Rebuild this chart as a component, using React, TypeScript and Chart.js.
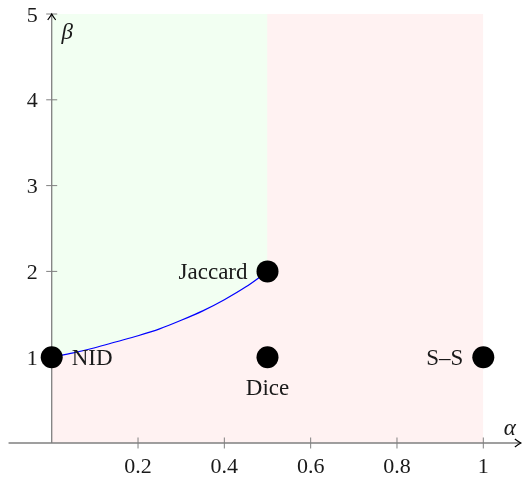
import React, { useEffect, useRef } from "react";
import { Chart, registerables } from "chart.js";

Chart.register(...registerables);

// ---- data ----
const curveAlpha = [0, 0.05, 0.1, 0.15, 0.2, 0.25, 0.3, 0.35, 0.4, 0.45, 0.5];
const curveBeta = [1, 1.05, 1.11, 1.18, 1.25, 1.33, 1.43, 1.54, 1.67, 1.82, 2];

const pointNames = ["NID", "Jaccard", "Dice", "S\u2013S"];
const pointAlpha = [0, 0.5, 0.5, 1];
const pointBeta = [1, 2, 1, 1];
const labelPlacement = ["right", "left", "below", "left"];

const xTicks = [0.2, 0.4, 0.6, 0.8, 1];
const xTickLabels = ["0.2", "0.4", "0.6", "0.8", "1"];
const yTicks = [1, 2, 3, 4, 5];
const yTickLabels = ["1", "2", "3", "4", "5"];

const greenAlpha = [0, 0.5];
const redAlpha = [0, 1];
const betaTop = 5;

const xAxisLabel = "\u03b1";
const yAxisLabel = "\u03b2";

// ---- view ----
const X_MIN = -0.1198;
const X_MAX = 1.0943;
const Y_MIN = -0.4429;
const Y_MAX = 5.1632;
const X_AXIS_START = -0.1;
const X_AXIS_END = 1.087;
const Y_AXIS_END = 5;

const FONT = '"Liberation Serif", "DejaVu Serif", serif';
const AXIS_COLOR = "#808080";
const TEXT_COLOR = "#1a1a1a";

export default function App() {
  const ref = useRef<HTMLCanvasElement | null>(null);

  useEffect(() => {
    const canvas = ref.current;
    if (!canvas) return;

    const axesPlugin = {
      id: "customAxes",
      beforeDatasetsDraw(chart: any) {
        const ctx = chart.ctx;
        const xs = chart.scales.x;
        const ys = chart.scales.y;
        const ox = xs.getPixelForValue(0);
        const oy = ys.getPixelForValue(0);
        ctx.save();
        ctx.strokeStyle = AXIS_COLOR;
        ctx.lineWidth = 1.3;
        ctx.beginPath();
        const xEnd = xs.getPixelForValue(X_AXIS_END);
        const yEnd = ys.getPixelForValue(Y_AXIS_END);
        ctx.moveTo(xs.getPixelForValue(X_AXIS_START), oy);
        ctx.lineTo(xEnd, oy);
        ctx.moveTo(ox, oy);
        ctx.lineTo(ox, yEnd);
        ctx.stroke();
        // ticks
        ctx.lineWidth = 1;
        ctx.beginPath();
        xTicks.forEach((v) => {
          const px = xs.getPixelForValue(v);
          ctx.moveTo(px, oy - 5.5);
          ctx.lineTo(px, oy + 5.5);
        });
        yTicks.forEach((v) => {
          const py = ys.getPixelForValue(v);
          ctx.moveTo(ox - 5.5, py);
          ctx.lineTo(ox + 5.5, py);
        });
        ctx.stroke();
        // arrow heads
        ctx.strokeStyle = "#000";
        ctx.lineWidth = 1.2;
        ctx.beginPath();
        ctx.moveTo(xEnd - 6, oy - 4);
        ctx.quadraticCurveTo(xEnd - 2, oy - 1, xEnd, oy);
        ctx.quadraticCurveTo(xEnd - 2, oy + 1, xEnd - 6, oy + 4);
        ctx.moveTo(ox - 4, yEnd + 6);
        ctx.quadraticCurveTo(ox - 1, yEnd + 2, ox, yEnd);
        ctx.quadraticCurveTo(ox + 1, yEnd + 2, ox + 4, yEnd + 6);
        ctx.stroke();
        // tick labels
        ctx.fillStyle = TEXT_COLOR;
        ctx.font = `22px ${FONT}`;
        ctx.textBaseline = "alphabetic";
        ctx.textAlign = "center";
        xTicks.forEach((v, i) => {
          ctx.fillText(xTickLabels[i], xs.getPixelForValue(v), oy + 30);
        });
        ctx.textAlign = "right";
        yTicks.forEach((v, i) => {
          ctx.fillText(yTickLabels[i], ox - 14, ys.getPixelForValue(v) + 7.5);
        });
        // axis labels
        ctx.font = `italic 23px ${FONT}`;
        ctx.textAlign = "center";
        ctx.fillText(xAxisLabel, xEnd - 11, oy - 8);
        ctx.fillText(yAxisLabel, ox + 15.5, yEnd + 25);
        ctx.restore();
      },
      afterDatasetsDraw(chart: any) {
        const ctx = chart.ctx;
        const xs = chart.scales.x;
        const ys = chart.scales.y;
        ctx.save();
        ctx.fillStyle = TEXT_COLOR;
        ctx.font = `23px ${FONT}`;
        ctx.textBaseline = "alphabetic";
        pointNames.forEach((name, i) => {
          const px = xs.getPixelForValue(pointAlpha[i]);
          const py = ys.getPixelForValue(pointBeta[i]);
          const pl = labelPlacement[i];
          if (pl === "right") {
            ctx.textAlign = "left";
            ctx.fillText(name, px + 20, py + 8);
          } else if (pl === "left") {
            ctx.textAlign = "right";
            ctx.fillText(name, px - 20, py + 8);
          } else {
            ctx.textAlign = "center";
            ctx.fillText(name, px, py + 37.5);
          }
        });
        ctx.restore();
      },
    };

    const chart = new Chart(canvas, {
      type: "line",
      data: {
        datasets: [
          {
            label: "points",
            data: pointAlpha.map((x, i) => ({ x, y: pointBeta[i] })),
            showLine: false,
            pointRadius: 11,
            pointHoverRadius: 11,
            pointBackgroundColor: "#000",
            pointBorderWidth: 0,
            borderColor: "#000",
          },
          {
            label: "curve",
            data: curveAlpha.map((x, i) => ({ x, y: curveBeta[i] })),
            borderColor: "#0000ff",
            borderWidth: 1.2,
            pointRadius: 0,
            cubicInterpolationMode: "monotone",
            fill: false,
          },
          {
            label: "green",
            data: greenAlpha.map((x) => ({ x, y: betaTop })),
            borderWidth: 0,
            borderColor: "rgba(0,0,0,0)",
            pointRadius: 0,
            backgroundColor: "rgb(242,255,242)",
            fill: 1,
          },
          {
            label: "red",
            data: redAlpha.map((x) => ({ x, y: betaTop })),
            borderWidth: 0,
            borderColor: "rgba(0,0,0,0)",
            pointRadius: 0,
            backgroundColor: "rgb(255,242,242)",
            fill: "origin",
          },
        ],
      },
      options: {
        animation: false,
        responsive: false,
        devicePixelRatio: 1,
        events: [],
        layout: { padding: 0, autoPadding: false },
        scales: {
          x: { type: "linear", min: X_MIN, max: X_MAX, display: false },
          y: { type: "linear", min: Y_MIN, max: Y_MAX, display: false },
        },
        plugins: {
          legend: { display: false },
          tooltip: { enabled: false },
          filler: { drawTime: "beforeDatasetsDraw" },
        },
      } as any,
      plugins: [axesPlugin],
    });

    return () => chart.destroy();
  }, []);

  return (
    <div style={{ position: "absolute", left: 0, top: 0, width: 524, height: 481 }}>
      <canvas ref={ref} width={524} height={481} />
    </div>
  );
}
